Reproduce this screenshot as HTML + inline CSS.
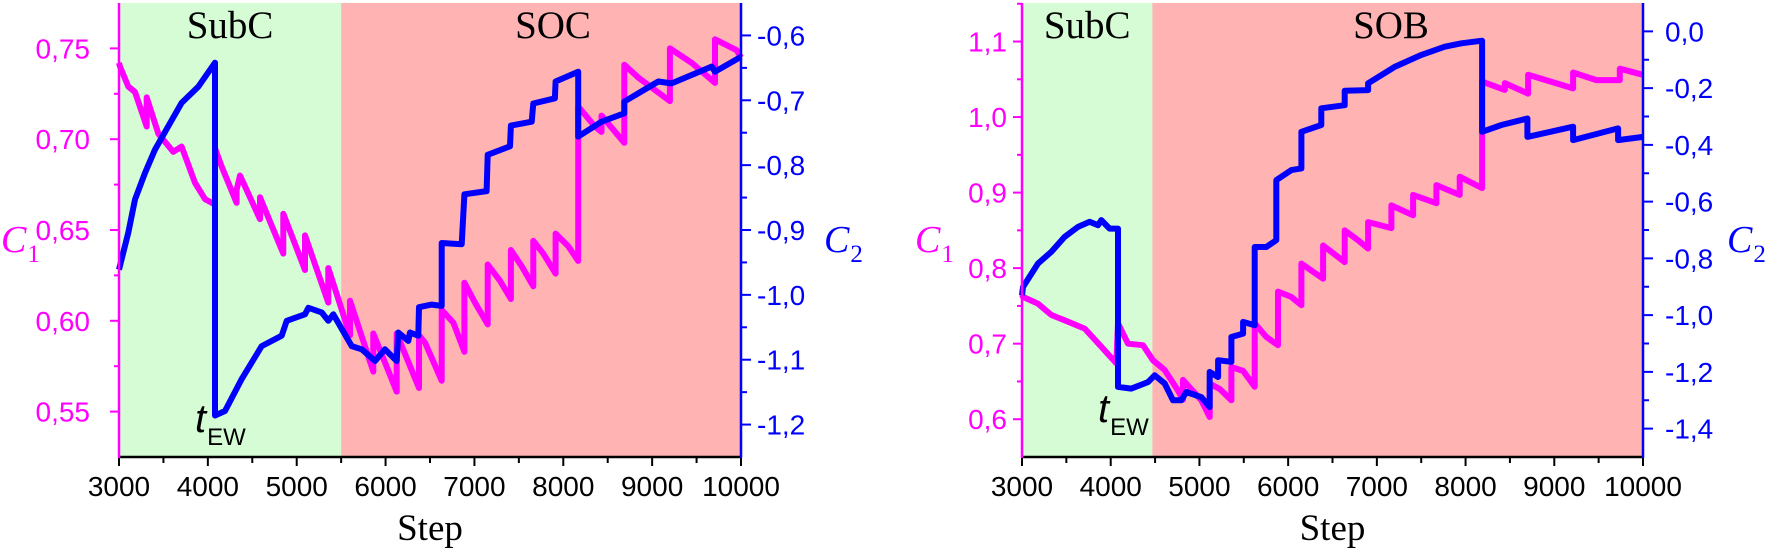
<!DOCTYPE html>
<html><head><meta charset="utf-8"><style>
html,body{margin:0;padding:0;background:#fff;}
svg{display:block;}
.tk{font-family:"Liberation Sans",sans-serif;font-size:28px;}
.sf{font-family:"Liberation Serif",serif;}
</style></head><body>
<svg id="fig" width="1765" height="551" viewBox="0 0 1765 551" xmlns="http://www.w3.org/2000/svg"></svg>
<script>
// ---- Left chart (SubC / SOC) data ----
const leftC1Steps = [3000,3011,3105,3180,3312,3312,3443,3611,3705,3855,3968,4043,4080,4080,4155,4324,4324,4362,4587,4587,4849,4849,5093,5093,5356,5356,5600,5600,5862,5862,6125,6125,6376,6376,6444,6632,6632,6762,6887,6887,7006,7149,7149,7288,7411,7411,7532,7662,7662,7775,7914,7914,8056,8168,8168,8356,8430,8430,8687,8687,8843,9200,9200,9445,9707,9707,9951,10000];
const leftC1Values = [0.742,0.740,0.729,0.726,0.707,0.723,0.703,0.693,0.696,0.676,0.667,0.665,0.664,0.695,0.685,0.665,0.672,0.680,0.656,0.668,0.637,0.659,0.628,0.647,0.610,0.629,0.592,0.611,0.572,0.593,0.561,0.593,0.563,0.592,0.588,0.567,0.606,0.599,0.583,0.621,0.610,0.598,0.631,0.622,0.612,0.639,0.630,0.619,0.644,0.637,0.626,0.648,0.641,0.633,0.718,0.707,0.704,0.713,0.698,0.741,0.734,0.721,0.750,0.742,0.731,0.755,0.749,0.745];
const leftC2Steps = [3000,3105,3180,3293,3405,3555,3705,3893,4080,4080,4193,4380,4606,4831,4887,5093,5131,5281,5356,5412,5619,5731,5881,5993,6125,6143,6256,6275,6368,6376,6518,6632,6632,6857,6887,7137,7149,7400,7411,7644,7662,7906,7914,8168,8168,8430,8687,8687,9069,9219,9669,9707,10000];
const leftC2Values = [-0.961,-0.904,-0.853,-0.812,-0.776,-0.740,-0.704,-0.679,-0.642,-1.186,-1.179,-1.130,-1.079,-1.063,-1.040,-1.030,-1.020,-1.027,-1.040,-1.030,-1.079,-1.084,-1.102,-1.084,-1.102,-1.058,-1.071,-1.058,-1.063,-1.019,-1.015,-1.017,-0.920,-0.922,-0.845,-0.840,-0.784,-0.771,-0.739,-0.733,-0.705,-0.697,-0.671,-0.656,-0.756,-0.733,-0.720,-0.702,-0.671,-0.674,-0.648,-0.656,-0.633];
// ---- Right chart (SubC / SOB) data ----
const rightC1Steps = [3000,3011,3180,3331,3481,3707,3894,4063,4082,4195,4364,4477,4609,4759,4815,4815,5021,5116,5116,5230,5360,5360,5492,5623,5623,5754,5886,5886,6036,6149,6149,6394,6394,6638,6638,6788,6901,6901,7164,7164,7408,7408,7671,7671,7934,7934,8186,8186,8442,8442,8705,8705,9212,9212,9475,9738,9738,10000];
const rightC1Values = [0.765,0.762,0.753,0.738,0.731,0.720,0.696,0.674,0.727,0.700,0.698,0.678,0.665,0.638,0.626,0.652,0.625,0.603,0.647,0.640,0.625,0.669,0.664,0.643,0.727,0.709,0.698,0.769,0.762,0.751,0.806,0.786,0.830,0.808,0.850,0.837,0.826,0.861,0.853,0.883,0.870,0.897,0.886,0.910,0.897,0.921,0.906,1.047,1.036,1.045,1.031,1.056,1.038,1.059,1.049,1.049,1.064,1.056];
const rightC2Steps = [3000,3011,3180,3331,3481,3631,3763,3857,3894,3988,4082,4082,4232,4420,4496,4609,4702,4796,4852,5021,5116,5116,5210,5210,5360,5360,5492,5492,5623,5623,5754,5867,5867,6036,6149,6149,6374,6374,6638,6638,6901,6901,7202,7502,7766,7953,8186,8186,8404,8697,8697,9212,9212,9719,9719,10000];
const rightC2Values = [-0.93,-0.901,-0.818,-0.777,-0.724,-0.689,-0.671,-0.683,-0.665,-0.695,-0.695,-1.253,-1.259,-1.236,-1.212,-1.241,-1.300,-1.300,-1.271,-1.289,-1.324,-1.200,-1.218,-1.159,-1.165,-1.077,-1.065,-1.024,-1.036,-0.760,-0.760,-0.736,-0.524,-0.489,-0.483,-0.354,-0.330,-0.271,-0.260,-0.209,-0.207,-0.183,-0.125,-0.083,-0.054,-0.042,-0.033,-0.354,-0.330,-0.307,-0.372,-0.336,-0.383,-0.342,-0.383,-0.372];
// ticks
const xTicks = [3000,4000,5000,6000,7000,8000,9000,10000];
const leftC1Ticks = [0.55,0.60,0.65,0.70,0.75];
const leftC1TickLabels = ["0,55","0,60","0,65","0,70","0,75"];
const leftC2Ticks = [-1.2,-1.1,-1.0,-0.9,-0.8,-0.7,-0.6];
const leftC2TickLabels = ["-1,2","-1,1","-1,0","-0,9","-0,8","-0,7","-0,6"];
const rightC1Ticks = [0.6,0.7,0.8,0.9,1.0,1.1];
const rightC1TickLabels = ["0,6","0,7","0,8","0,9","1,0","1,1"];
const rightC2Ticks = [-1.4,-1.2,-1.0,-0.8,-0.6,-0.4,-0.2,0.0];
const rightC2TickLabels = ["-1,4","-1,2","-1,0","-0,8","-0,6","-0,4","-0,2","0,0"];
const leftRegions = [3000,5500,10000];
const rightRegions = [3000,4470,10000];

const NS = "http://www.w3.org/2000/svg";
const svg = document.getElementById('fig');
function mk(tag, attrs, parent){
  const e = document.createElementNS(NS, tag);
  for (const k in attrs) e.setAttribute(k, attrs[k]);
  (parent||svg).appendChild(e);
  return e;
}
function lin(d0,d1,r0,r1){ return v => r0 + (v-d0)/(d1-d0)*(r1-r0); }

function chart(cfg){
  const g = mk('g', {});
  
  
  const T = 3, B = 457;
  const x = lin(3000,10000,cfg.x0,cfg.x1);
  const y1 = lin(cfg.c1min,cfg.c1max,B,T);
  const y2 = lin(cfg.c2min,cfg.c2max,B,T);
  const rg = mk('rect', {x:x(cfg.regions[0]), y:T, width:x(cfg.regions[1])-x(cfg.regions[0]), height:B-T, fill:'#d5fcd5'}, g);
  
  
  const rr = mk('rect', {x:x(cfg.regions[1]), y:T, width:x(cfg.regions[2])-x(cfg.regions[1]), height:B-T, fill:'#ffb3b3'}, g);
  
  
  const t1 = mk('text', {x:(x(cfg.regions[0])+x(cfg.regions[1]))/2, y:38, 'text-anchor':'middle', 'class':'sf', 'font-size':'39'}, g);
  t1.textContent = 'SubC';
  
  
  const t2 = mk('text', {x:cfg.phaseX, y:38, 'text-anchor':'middle', 'class':'sf', 'font-size':'39'}, g);
  t2.textContent = cfg.phase;
  
  
  const p1 = mk('path', {d: cfg.c1s.map((s,i)=>(i?'L':'M')+x(s).toFixed(1)+' '+y1(cfg.c1v[i]).toFixed(1)).join(''), fill:'none', stroke:'#ff00ff', 'stroke-width':6, 'stroke-linejoin':'round'}, g);
  
  
  const p2 = mk('path', {d: cfg.c2s.map((s,i)=>(i?'L':'M')+x(s).toFixed(1)+' '+y2(cfg.c2v[i]).toFixed(1)).join(''), fill:'none', stroke:'#0000ff', 'stroke-width':6, 'stroke-linejoin':'round'}, g);
  
  
  const te = mk('text', {x:cfg.tewX, y:cfg.tewY, 'font-family':'"Liberation Sans",sans-serif', 'font-style':'italic', 'font-size':'40'}, g);
  te.textContent = 't';
  
  
  const ts = mk('tspan', {dx:'1', dy:'13', 'font-size':'24', 'font-style':'normal'}, te);
  ts.textContent = 'EW';
  const xa = mk('g', {}, g);
  
  
  mk('line', {x1:cfg.x0, x2:cfg.x1, y1:B, y2:B, stroke:'#000', 'stroke-width':2.5}, xa);
  for (let v=3000; v<=10000; v+=500){
    const major = v%1000===0;
    mk('line', {x1:x(v), x2:x(v), y1:B, y2:B+(major?9:6), stroke:'#000', 'stroke-width':2}, xa);
  }
  xTicks.forEach(v=>{
    const t = mk('text', {x:x(v), y:496, 'text-anchor':'middle', 'class':'tk', fill:'#000'}, xa);
    t.textContent = v;
    
    
  });
  const st = mk('text', {x:(cfg.x0+cfg.x1)/2, y:540, 'text-anchor':'middle', 'class':'sf', 'font-size':'37'}, xa);
  st.textContent = 'Step';
  
  
  const la = mk('g', {}, g);
  
  
  mk('line', {x1:cfg.x0, x2:cfg.x0, y1:T, y2:B+1, stroke:'#ff00ff', 'stroke-width':2.5}, la);
  cfg.c1t.forEach((v,i)=>{
    mk('line', {x1:cfg.x0-9, x2:cfg.x0, y1:y1(v), y2:y1(v), stroke:'#ff00ff', 'stroke-width':2}, la);
    const mv = v + cfg.c1step/2;
    if (mv < cfg.c1max) mk('line', {x1:cfg.x0-5, x2:cfg.x0, y1:y1(mv), y2:y1(mv), stroke:'#ff00ff', 'stroke-width':2}, la);
    const t = mk('text', {x:cfg.c1LabX, y:y1(v)+10, 'text-anchor':'end', 'class':'tk', fill:'#ff00ff'}, la);
    t.textContent = cfg.c1l[i];
    
    
  });
  const c1 = mk('text', {x:cfg.c1TitleX, y:252, 'class':'sf', 'font-style':'italic', 'font-size':'38', fill:'#ff00ff'}, la);
  c1.textContent = 'C';
  
  
  const c1s = mk('tspan', {dx:'1', dy:'10', 'font-size':'25', 'font-style':'normal'}, c1); c1s.textContent='1';
  const ra = mk('g', {}, g);
  
  
  mk('line', {x1:cfg.x1, x2:cfg.x1, y1:T, y2:B+1, stroke:'#0000ff', 'stroke-width':2.5}, ra);
  cfg.c2t.forEach((v,i)=>{
    mk('line', {x1:cfg.x1, x2:cfg.x1+10, y1:y2(v), y2:y2(v), stroke:'#0000ff', 'stroke-width':2}, ra);
    const mv = v + cfg.c2step/2;
    if (mv < cfg.c2max) mk('line', {x1:cfg.x1, x2:cfg.x1+6, y1:y2(mv), y2:y2(mv), stroke:'#0000ff', 'stroke-width':2}, ra);
    const t = mk('text', {x:cfg.c2LabX, y:y2(v)+10, 'class':'tk', fill:'#0000ff'}, ra);
    t.textContent = cfg.c2l[i];
    
    
  });
  const c2 = mk('text', {x:cfg.c2TitleX, y:252, 'class':'sf', 'font-style':'italic', 'font-size':'38', fill:'#0000ff'}, ra);
  c2.textContent = 'C';
  
  
  const c2s = mk('tspan', {dx:'1', dy:'10', 'font-size':'25', 'font-style':'normal'}, c2); c2s.textContent='2';
}

chart({name:'left-chart', x0:119, x1:741, c1min:0.525, c1max:0.775, c2min:-1.25, c2max:-0.55,
  regions:leftRegions, phase:'SOC', phaseX:553,
  c1s:leftC1Steps, c1v:leftC1Values, c2s:leftC2Steps, c2v:leftC2Values,
  c1t:leftC1Ticks, c1l:leftC1TickLabels, c1step:0.05, c2t:leftC2Ticks, c2l:leftC2TickLabels, c2step:0.1,
  c1LabX:90, c2LabX:757, c1TitleX:1, c2TitleX:824, tewX:195, tewY:432});
chart({name:'right-chart', x0:1022, x1:1643, c1min:0.55, c1max:1.151, c2min:-1.5, c2max:0.1,
  regions:rightRegions, phase:'SOB', phaseX:1391,
  c1s:rightC1Steps, c1v:rightC1Values, c2s:rightC2Steps, c2v:rightC2Values,
  c1t:rightC1Ticks, c1l:rightC1TickLabels, c1step:0.1, c2t:rightC2Ticks, c2l:rightC2TickLabels, c2step:0.2,
  c1LabX:1007, c2LabX:1665, c1TitleX:915, c2TitleX:1727, tewX:1098, tewY:422});
</script>
</body></html>
